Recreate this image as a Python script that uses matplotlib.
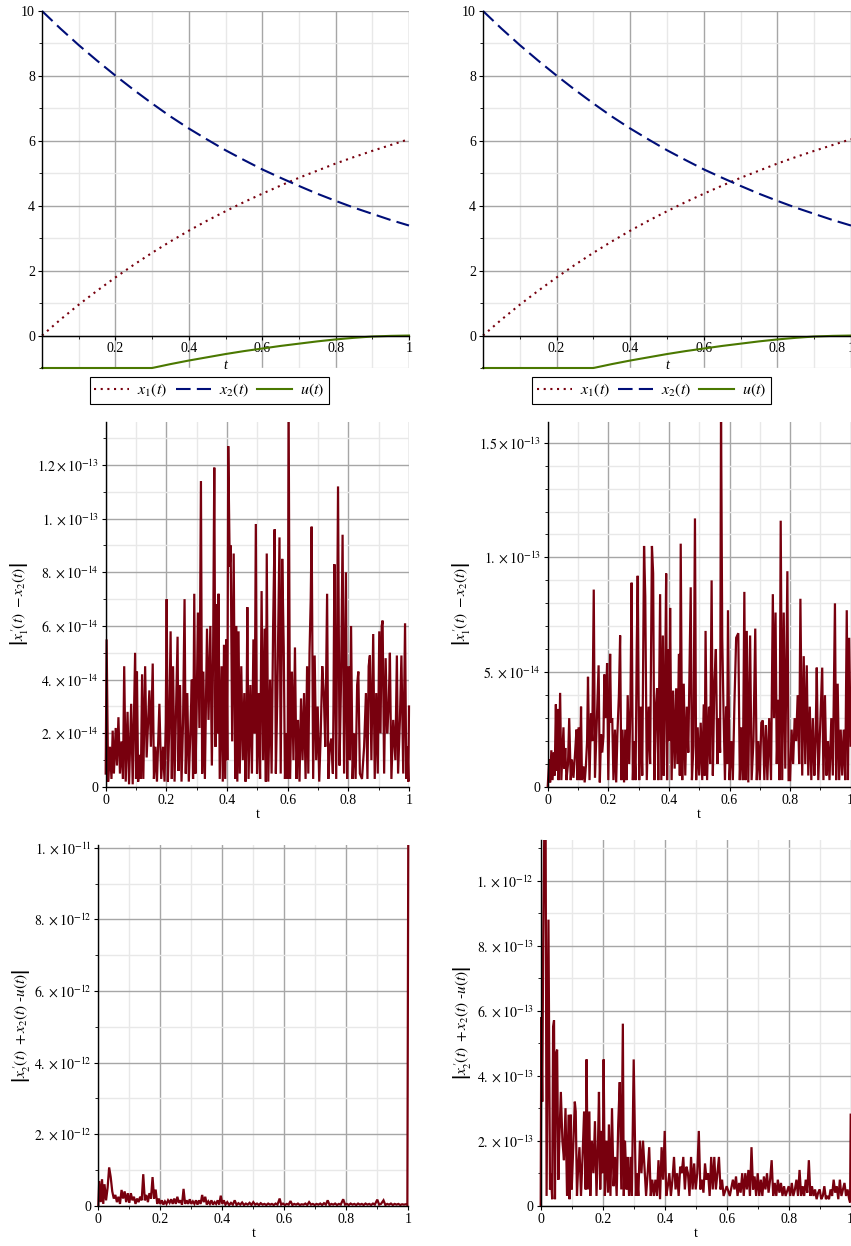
import numpy as np
import matplotlib
matplotlib.use("Agg")
import matplotlib.pyplot as plt
from matplotlib.ticker import MultipleLocator
from matplotlib.transforms import Bbox, TransformedBbox

plt.rcParams['font.family'] = ['Liberation Serif', 'DejaVu Serif']
plt.rcParams['mathtext.fontset'] = 'stix'

# ---------------- data ----------------
t_state = [0.00, 0.05, 0.10, 0.15, 0.20, 0.25, 0.30, 0.35, 0.40, 0.45, 0.50,
           0.55, 0.60, 0.65, 0.70, 0.75, 0.80, 0.85, 0.90, 0.95, 1.00]
x1_vals = [0.00, 0.49, 0.95, 1.38, 1.79, 2.18, 2.55, 2.90, 3.23, 3.54, 3.83,
           4.11, 4.37, 4.62, 4.86, 5.08, 5.30, 5.50, 5.69, 5.87, 6.05]
x2_vals = [10.00, 9.46, 8.95, 8.47, 8.01, 7.57, 7.15, 6.75, 6.38, 6.04, 5.71,
           5.41, 5.12, 4.86, 4.61, 4.37, 4.15, 3.94, 3.75, 3.56, 3.39]
u_vals = [-1.00, -1.00, -1.00, -1.00, -1.00, -1.00, -1.00, -0.88, -0.77, -0.67, -0.57,
          -0.48, -0.40, -0.32, -0.25, -0.18, -0.12, -0.07, -0.03, -0.01, 0.00]

state_xticks = [0.2, 0.4, 0.6, 0.8, 1.0]
state_xticklabels = ['0.2', '0.4', '0.6', '0.8', '1']
state_yticks = [0, 2, 4, 6, 8, 10]
err_xticks = [0, 0.2, 0.4, 0.6, 0.8, 1.0]
err_xticklabels = ['0', '0.2', '0.4', '0.6', '0.8', '1']

# |x1'(t) - x2(t)|, left, units 1e-14
err1_left = [
 (0.000,0.5),(0.003,5.5),(0.008,0.2),(0.014,1.5),(0.019,0.3),(0.023,2.1),(0.027,0.5),(0.033,2.2),
 (0.037,0.8),(0.042,2.6),(0.047,0.5),(0.052,1.7),(0.057,0.3),(0.061,4.5),(0.066,0.2),(0.072,2.8),
 (0.077,0.1),(0.084,3.1),(0.089,0.1),(0.097,5.0),(0.100,0.3),(0.103,4.3),(0.107,0.2),(0.112,1.2),
 (0.116,0.3),(0.120,4.2),(0.124,0.3),(0.130,4.5),(0.135,1.1),(0.144,3.6),(0.149,1.5),(0.155,4.6),
 (0.159,0.3),(0.164,1.5),(0.169,0.2),(0.174,2.0),(0.177,3.1),(0.183,0.3),(0.189,1.5),(0.194,0.2),
 (0.198,2.4),(0.201,7.0),(0.205,0.2),(0.209,2.0),(0.214,5.8),(0.218,0.3),(0.222,4.5),(0.227,0.2),
 (0.232,3.0),(0.237,5.6),(0.240,0.6),(0.245,3.8),(0.250,0.2),(0.255,2.4),(0.260,7.0),(0.264,0.5),
 (0.269,3.5),(0.274,0.2),(0.279,2.0),(0.284,4.0),(0.288,0.3),(0.292,7.2),(0.296,0.5),(0.300,3.0),
 (0.304,6.5),(0.309,2.2),(0.314,11.4),(0.318,0.5),(0.322,4.3),(0.327,0.3),(0.334,5.9),(0.339,2.5),
 (0.345,6.0),(0.350,0.8),(0.354,4.8),(0.358,11.9),(0.362,1.5),(0.366,6.8),(0.369,2.0),(0.372,7.2),
 (0.376,0.3),(0.382,4.5),(0.386,0.2),(0.390,5.3),(0.394,0.3),(0.398,5.5),(0.401,1.0),(0.404,12.7),
 (0.409,8.2),(0.412,9.0),(0.417,1.7),(0.422,8.7),(0.427,0.3),(0.430,6.0),(0.434,0.2),(0.438,5.8),
 (0.442,0.5),(0.447,4.5),(0.452,1.0),(0.457,3.5),(0.461,0.2),(0.464,2.0),(0.467,6.7),(0.471,0.3),
 (0.477,3.8),(0.482,0.5),(0.487,5.5),(0.491,2.0),(0.495,9.8),(0.499,0.5),(0.504,3.5),(0.509,0.3),
 (0.514,7.3),(0.519,1.0),(0.524,5.9),(0.528,0.2),(0.531,8.7),(0.536,0.2),(0.542,4.0),(0.547,0.5),
 (0.552,6.0),(0.557,9.6),(0.561,0.5),(0.566,3.5),(0.573,9.3),(0.577,0.5),(0.582,8.5),(0.587,5.2),
 (0.591,0.3),(0.596,2.0),(0.600,0.3),(0.603,14.5),(0.608,0.3),(0.614,4.3),(0.619,1.0),(0.624,5.2),
 (0.629,0.3),(0.634,2.5),(0.639,0.2),(0.644,3.3),(0.649,1.0),(0.654,3.5),(0.659,0.3),(0.664,4.5),
 (0.668,0.5),(0.672,5.0),(0.676,7.0),(0.679,9.7),(0.684,0.3),(0.689,4.9),(0.694,1.0),(0.699,3.0),
 (0.704,0.2),(0.709,2.0),(0.714,4.5),(0.719,3.5),(0.724,1.5),(0.730,7.2),(0.734,0.3),(0.739,1.5),
 (0.744,1.8),(0.749,0.5),(0.751,3.0),(0.754,8.3),(0.760,0.3),(0.766,11.2),(0.771,0.8),(0.776,4.0),
 (0.781,9.4),(0.786,0.5),(0.792,8.0),(0.796,0.3),(0.801,4.5),(0.805,1.0),(0.809,6.0),(0.814,0.3),
 (0.819,2.0),(0.824,0.3),(0.829,3.8),(0.833,4.3),(0.838,0.5),(0.845,0.3),(0.852,1.5),(0.858,3.5),
 (0.863,0.3),(0.867,4.5),(0.871,4.9),(0.876,1.0),(0.882,5.7),(0.887,0.3),(0.892,3.5),(0.897,0.5),
 (0.902,5.8),(0.906,2.0),(0.910,6.0),(0.913,6.2),(0.918,0.5),(0.923,4.8),(0.928,2.0),(0.933,3.0),
 (0.937,5.0),(0.942,0.3),(0.948,2.5),(0.955,1.0),(0.960,4.9),(0.964,0.5),(0.970,2.5),(0.975,4.9),
 (0.981,0.5),(0.987,6.1),(0.991,0.3),(0.995,1.5),(0.998,0.2),(1.000,3.0)]

# |x1'(t) - x2(t)|, right, units 1e-14
err1_right = [
 (0.000,0.0),(0.005,1.2),(0.008,0.2),(0.012,1.6),(0.016,0.3),(0.020,1.5),(0.023,0.5),(0.027,3.6),
 (0.030,0.7),(0.033,3.4),(0.036,0.3),(0.041,4.1),(0.045,0.3),(0.052,2.6),(0.055,0.8),(0.058,1.7),
 (0.062,0.3),(0.067,1.0),(0.071,3.0),(0.076,0.3),(0.080,1.2),(0.085,0.4),(0.090,1.4),(0.095,2.5),
 (0.098,0.3),(0.102,2.6),(0.106,0.3),(0.110,3.5),(0.113,0.3),(0.118,0.9),(0.122,0.2),(0.126,0.9),
 (0.130,2.0),(0.133,4.8),(0.138,0.3),(0.143,3.2),(0.147,2.0),(0.152,8.6),(0.156,0.4),(0.161,2.5),
 (0.168,5.3),(0.172,0.2),(0.176,2.3),(0.180,1.5),(0.184,2.2),(0.187,4.9),(0.191,3.0),(0.196,5.4),
 (0.200,0.3),(0.206,5.8),(0.209,2.8),(0.213,3.0),(0.217,0.3),(0.222,2.5),(0.226,0.2),(0.230,2.3),
 (0.235,4.0),(0.239,6.6),(0.243,0.3),(0.247,2.5),(0.252,0.2),(0.256,2.5),(0.260,0.3),(0.264,4.0),
 (0.269,1.0),(0.273,3.5),(0.277,8.9),(0.281,0.3),(0.285,2.0),(0.290,0.3),(0.294,6.2),(0.297,9.2),
 (0.302,0.3),(0.307,3.5),(0.312,0.5),(0.318,10.5),(0.322,8.3),(0.327,0.3),(0.333,3.5),(0.338,1.0),
 (0.344,10.5),(0.348,9.3),(0.352,0.3),(0.357,3.5),(0.361,4.3),(0.365,0.3),(0.371,8.4),(0.375,0.3),
 (0.380,6.6),(0.383,0.5),(0.387,4.0),(0.391,9.3),(0.394,0.3),(0.398,6.0),(0.401,2.0),(0.404,7.8),
 (0.409,0.3),(0.414,4.2),(0.419,0.8),(0.424,4.3),(0.428,1.0),(0.433,5.8),(0.436,0.5),(0.439,10.6),
 (0.444,0.3),(0.449,4.5),(0.454,0.5),(0.459,3.5),(0.464,1.5),(0.468,5.0),(0.472,8.7),(0.476,0.3),
 (0.481,1.8),(0.486,11.7),(0.490,0.3),(0.495,2.6),(0.500,0.5),(0.505,2.8),(0.510,0.3),(0.515,3.6),
 (0.518,0.5),(0.521,6.8),(0.526,0.3),(0.532,3.5),(0.536,1.0),(0.541,9.0),(0.545,0.5),(0.550,4.5),
 (0.555,6.0),(0.560,1.0),(0.565,3.0),(0.569,1.5),(0.572,16.5),(0.576,6.5),(0.580,3.5),(0.585,0.3),
 (0.589,3.5),(0.592,1.0),(0.595,7.7),(0.600,0.3),(0.606,2.0),(0.611,0.3),(0.616,3.5),(0.622,6.5),
 (0.629,6.7),(0.634,0.3),(0.639,2.6),(0.644,0.3),(0.649,8.5),(0.653,0.3),(0.657,6.8),(0.662,0.2),
 (0.668,6.6),(0.673,0.3),(0.679,2.0),(0.685,6.9),(0.690,0.3),(0.695,2.0),(0.700,0.3),(0.705,2.8),
 (0.710,2.9),(0.715,0.3),(0.720,2.7),(0.725,0.3),(0.731,3.0),(0.737,0.3),(0.743,8.4),(0.747,3.0),
 (0.752,7.6),(0.756,1.0),(0.761,3.8),(0.765,0.3),(0.769,11.6),(0.774,0.3),(0.779,7.6),(0.784,0.8),
 (0.791,9.4),(0.795,0.3),(0.800,0.3),(0.805,2.5),(0.810,1.0),(0.815,3.0),(0.820,2.0),(0.825,4.0),
 (0.830,1.0),(0.834,8.2),(0.840,0.5),(0.845,5.7),(0.850,1.0),(0.855,5.3),(0.860,0.5),(0.865,3.5),
 (0.870,0.3),(0.875,3.0),(0.880,0.5),(0.884,2.0),(0.888,5.2),(0.893,0.3),(0.899,2.5),(0.906,5.2),
 (0.910,0.3),(0.915,4.0),(0.920,0.5),(0.925,2.0),(0.930,0.3),(0.936,3.0),(0.941,0.5),(0.948,8.0),
 (0.952,0.3),(0.957,4.5),(0.962,0.3),(0.967,2.5),(0.972,0.5),(0.977,2.5),(0.982,0.3),(0.987,7.7),
 (0.991,0.3),(0.995,6.5),(1.000,1.8)]

# |x2'(t) + x2(t) - u(t)|, left, units 1e-13
err2_left = [
 (0.000,0.0),(0.003,6.9),(0.008,1.0),(0.012,7.4),(0.016,0.5),(0.020,6.0),(0.025,1.5),(0.030,5.0),
 (0.035,10.7),(0.040,8.0),(0.045,4.0),(0.050,2.0),(0.055,3.0),(0.060,1.0),(0.065,2.5),(0.070,0.5),
 (0.075,4.4),(0.080,2.0),(0.085,4.0),(0.090,1.0),(0.095,3.5),(0.100,0.8),(0.105,3.5),(0.110,1.5),
 (0.115,2.5),(0.120,0.5),(0.125,2.0),(0.130,1.0),(0.135,2.5),(0.140,1.5),(0.145,8.8),(0.150,1.5),
 (0.155,3.0),(0.160,1.0),(0.165,3.5),(0.170,2.0),(0.175,8.0),(0.180,2.0),(0.185,4.5),(0.190,0.5),
 (0.195,2.0),(0.200,0.5),(0.205,1.5),(0.210,0.3),(0.215,1.2),(0.220,0.5),(0.225,1.5),(0.230,0.8),
 (0.235,1.8),(0.240,0.5),(0.245,2.0),(0.250,0.5),(0.255,2.5),(0.260,0.8),(0.265,1.5),(0.270,0.3),
 (0.275,4.7),(0.280,0.5),(0.285,1.5),(0.290,0.5),(0.295,1.8),(0.300,0.5),(0.305,1.2),(0.310,0.5),
 (0.315,1.5),(0.320,0.3),(0.325,1.5),(0.330,0.5),(0.335,3.0),(0.340,1.0),(0.345,2.5),(0.350,0.3),
 (0.355,1.2),(0.360,0.5),(0.365,1.5),(0.370,0.3),(0.375,1.0),(0.380,0.5),(0.385,1.5),(0.390,0.3),
 (0.395,2.8),(0.400,0.5),(0.405,1.5),(0.410,0.3),(0.416,1.0),(0.422,0.2),(0.428,0.8),(0.434,0.3),
 (0.440,1.5),(0.446,0.2),(0.452,0.7),(0.458,0.3),(0.464,0.9),(0.470,0.2),(0.476,0.6),(0.482,0.3),
 (0.488,0.8),(0.494,0.2),(0.500,1.0),(0.506,0.3),(0.512,0.6),(0.518,0.2),(0.524,0.7),(0.530,0.3),
 (0.536,0.5),(0.542,0.2),(0.548,0.6),(0.554,0.3),(0.560,0.5),(0.566,0.2),(0.572,0.6),(0.578,0.3),
 (0.585,2.0),(0.590,0.3),(0.596,0.6),(0.602,0.2),(0.608,0.5),(0.614,0.3),(0.620,1.3),(0.626,0.2),
 (0.632,0.5),(0.638,0.3),(0.644,0.6),(0.650,0.2),(0.656,0.4),(0.662,0.3),(0.668,0.6),(0.674,0.2),
 (0.680,1.0),(0.686,0.3),(0.692,0.5),(0.698,0.2),(0.704,0.5),(0.710,0.3),(0.716,0.6),(0.722,0.2),
 (0.728,0.7),(0.734,0.3),(0.740,1.5),(0.746,0.2),(0.752,0.5),(0.758,0.3),(0.764,0.6),(0.770,0.2),
 (0.776,0.5),(0.782,0.3),(0.790,1.8),(0.796,0.3),(0.802,0.5),(0.808,0.2),(0.814,0.6),(0.820,0.3),
 (0.826,0.5),(0.832,0.2),(0.838,0.6),(0.844,0.3),(0.850,0.5),(0.856,0.2),(0.862,0.6),(0.868,0.3),
 (0.874,0.5),(0.880,0.2),(0.886,0.6),(0.892,0.3),(0.900,1.7),(0.906,0.3),(0.912,0.5),(0.920,1.5),
 (0.926,0.2),(0.932,0.5),(0.938,0.3),(0.944,0.6),(0.950,0.2),(0.956,0.5),(0.962,0.3),(0.968,0.5),
 (0.974,0.2),(0.980,0.4),(0.986,0.3),(0.992,0.4),(0.997,0.2),(1.000,105.0)]

# |x2'(t) + x2(t) - u(t)|, right, units 1e-13
err2_right = [
 (0.000,0.0),(0.002,5.8),(0.005,3.2),(0.008,8.0),(0.012,12.0),(0.016,11.3),(0.019,0.3),(0.025,8.8),
 (0.030,0.5),(0.033,1.0),(0.037,0.2),(0.040,5.5),(0.043,5.7),(0.046,0.2),(0.050,4.7),(0.053,4.8),
 (0.057,0.8),(0.060,2.0),(0.065,3.5),(0.070,2.0),(0.075,1.4),(0.080,3.0),(0.085,0.3),(0.090,2.8),
 (0.093,0.2),(0.097,2.8),(0.100,0.5),(0.105,1.8),(0.110,3.2),(0.113,2.9),(0.117,0.3),(0.120,1.0),
 (0.125,1.8),(0.130,0.3),(0.135,1.5),(0.140,2.9),(0.145,0.5),(0.148,4.5),(0.152,0.5),(0.157,2.9),
 (0.160,0.3),(0.165,2.0),(0.170,1.0),(0.175,2.6),(0.180,0.3),(0.185,2.0),(0.188,3.5),(0.192,0.5),
 (0.196,2.3),(0.200,1.0),(0.203,4.5),(0.207,0.3),(0.212,2.0),(0.217,0.4),(0.220,2.5),(0.225,0.3),
 (0.230,3.0),(0.235,0.6),(0.240,1.5),(0.245,0.3),(0.250,2.5),(0.255,3.8),(0.260,0.5),(0.265,5.6),
 (0.268,0.3),(0.272,2.0),(0.277,0.5),(0.280,1.5),(0.285,0.3),(0.290,1.5),(0.294,0.3),(0.300,4.5),
 (0.307,0.3),(0.310,1.0),(0.315,0.3),(0.320,2.0),(0.325,1.0),(0.330,2.0),(0.340,0.3),(0.345,1.0),
 (0.350,1.8),(0.355,0.3),(0.360,0.8),(0.365,0.3),(0.370,0.8),(0.375,0.3),(0.380,1.4),(0.385,0.2),
 (0.390,1.8),(0.395,0.8),(0.400,2.3),(0.405,0.3),(0.410,0.6),(0.415,1.0),(0.420,0.3),(0.425,0.8),
 (0.430,1.5),(0.435,0.5),(0.440,1.0),(0.445,0.3),(0.450,1.2),(0.455,1.0),(0.460,1.5),(0.465,0.5),
 (0.470,1.2),(0.475,1.0),(0.480,0.3),(0.485,1.5),(0.490,0.5),(0.495,1.3),(0.500,0.5),(0.505,1.0),
 (0.510,2.3),(0.515,0.5),(0.520,0.8),(0.525,0.4),(0.530,1.3),(0.535,0.8),(0.540,1.0),(0.545,0.3),
 (0.550,1.5),(0.555,0.5),(0.560,1.5),(0.565,0.5),(0.570,1.0),(0.575,1.5),(0.580,0.5),(0.585,0.8),
 (0.590,0.3),(0.600,0.6),(0.610,0.3),(0.620,0.8),(0.625,0.5),(0.630,0.9),(0.635,0.3),(0.640,0.7),
 (0.645,0.4),(0.650,1.0),(0.655,0.3),(0.660,1.0),(0.665,0.5),(0.670,1.1),(0.675,0.3),(0.680,1.8),
 (0.685,0.5),(0.690,0.9),(0.695,0.3),(0.700,1.0),(0.705,0.3),(0.710,0.8),(0.715,0.3),(0.720,0.9),
 (0.725,0.5),(0.730,1.0),(0.735,0.4),(0.740,0.8),(0.745,1.4),(0.750,0.3),(0.755,0.7),(0.760,0.3),
 (0.765,0.8),(0.770,0.4),(0.775,0.7),(0.780,0.3),(0.785,0.6),(0.790,0.3),(0.800,0.6),(0.805,0.3),
 (0.810,0.7),(0.815,0.3),(0.820,0.5),(0.825,0.8),(0.830,0.3),(0.835,1.1),(0.840,0.3),(0.845,0.6),
 (0.850,0.3),(0.855,0.8),(0.860,0.4),(0.865,1.4),(0.870,0.3),(0.875,0.6),(0.880,0.3),(0.885,0.5),
 (0.890,0.2),(0.895,0.4),(0.900,0.5),(0.905,0.2),(0.910,0.3),(0.915,0.6),(0.920,0.2),(0.925,0.3),
 (0.930,0.2),(0.935,0.5),(0.940,0.3),(0.945,0.8),(0.950,0.4),(0.955,0.6),(0.960,0.2),(0.965,0.8),
 (0.970,0.3),(0.975,0.5),(0.980,0.7),(0.985,0.3),(0.990,0.5),(0.995,0.2),(0.998,0.1),(1.000,2.8)]

e1l_ticks = [0, 2e-14, 4e-14, 6e-14, 8e-14, 1e-13, 1.2e-13]
e1l_labels = ['0', r'$2.\times10^{-14}$', r'$4.\times10^{-14}$', r'$6.\times10^{-14}$',
              r'$8.\times10^{-14}$', r'$1.\times10^{-13}$', r'$1.2\times10^{-13}$']
e1r_ticks = [0, 5e-14, 1e-13, 1.5e-13]
e1r_labels = ['0', r'$5.\times10^{-14}$', r'$1.\times10^{-13}$', r'$1.5\times10^{-13}$']
e2l_ticks = [0, 2e-12, 4e-12, 6e-12, 8e-12, 1e-11]
e2l_labels = ['0', r'$2.\times10^{-12}$', r'$4.\times10^{-12}$', r'$6.\times10^{-12}$',
              r'$8.\times10^{-12}$', r'$1.\times10^{-11}$']
e2r_ticks = [0, 2e-13, 4e-13, 6e-13, 8e-13, 1e-12]
e2r_labels = ['0', r'$2.\times10^{-13}$', r'$4.\times10^{-13}$', r'$6.\times10^{-13}$',
              r'$8.\times10^{-13}$', r'$1.\times10^{-12}$']

# ---------------- style ----------------
C_RED = '#78000E'
C_BLUE = '#000E78'
C_GREEN = '#4A7800'
GRID_MAJ = '#a6a6a6'
GRID_MIN = '#e8e8e8'
FS = 10

W, H = 851, 1246
fig = plt.figure(figsize=(W / 100, H / 100), dpi=100)


def px_axes(left, top, right, bottom):
    return fig.add_axes([left / W, 1 - bottom / H, (right - left) / W, (bottom - top) / H])


def style_common(ax):
    ax.set_axisbelow(True)
    ax.grid(which='major', color=GRID_MAJ, lw=1.0)
    ax.grid(which='minor', color=GRID_MIN, lw=1.0)
    for s in ['top', 'right']:
        ax.spines[s].set_visible(False)
    ax.spines['left'].set_linewidth(1.0)
    ax.spines['bottom'].set_linewidth(1.0)
    ax.tick_params(which='major', length=3, width=0.8, labelsize=FS, pad=2)
    ax.tick_params(which='minor', length=2, width=0.6)


def state_panel(ax, leg_x):
    style_common(ax)
    l1, = ax.plot(t_state, x1_vals, color=C_RED, lw=1.5, ls=(0, (1, 2.2)), clip_on=False)
    l2, = ax.plot(t_state, x2_vals, color=C_BLUE, lw=1.5, ls=(0, (7, 3)), clip_on=False)
    l3, = ax.plot(t_state, u_vals, color=C_GREEN, lw=1.5, clip_on=False)
    ax.set_xlim(0, 1)
    ax.set_ylim(-1, 10)
    ax.spines['bottom'].set_position(('data', 0))
    ax.set_xticks(state_xticks)
    ax.set_xticklabels(state_xticklabels)
    ax.set_yticks(state_yticks)
    ax.xaxis.set_minor_locator(MultipleLocator(0.1))
    ax.yaxis.set_minor_locator(MultipleLocator(1))
    ax.text(0.5, -0.93, 't', ha='center', va='center', fontsize=FS, style='italic')
    ax.legend([l1, l2, l3], [r'$x_1(t)$', r'$x_2(t)$', r'$u(t)$'],
              loc='center', bbox_to_anchor=(leg_x, -0.063), ncol=3, fontsize=11.5,
              frameon=True, fancybox=False, edgecolor='black', framealpha=1,
              handlelength=2.2, handletextpad=0.5, columnspacing=0.5,
              borderpad=0.3, borderaxespad=0)
    ax.get_legend().get_frame().set_linewidth(0.8)


def err_panel(ax, data, scale, ymax, ticks, labels, minor, ylabel, lab_x):
    style_common(ax)
    arr = np.array(data)
    ln, = ax.plot(arr[:, 0], arr[:, 1] * scale, color=C_RED, lw=1.6, solid_joinstyle='miter')
    ln.set_clip_box(TransformedBbox(Bbox([[-0.01, 0.0], [1.01, 1.0]]), ax.transAxes))
    ax.set_xlim(0, 1)
    ax.set_ylim(0, ymax)
    ax.set_xticks(err_xticks)
    ax.set_xticklabels(err_xticklabels)
    ax.set_yticks(ticks)
    ax.set_yticklabels(labels)
    ax.xaxis.set_minor_locator(MultipleLocator(0.1))
    ax.yaxis.set_minor_locator(MultipleLocator(minor))
    ax.set_xlabel('t', fontsize=FS, labelpad=1)
    ax.set_ylabel(ylabel, fontsize=11)
    ax.yaxis.set_label_coords(lab_x, 0.5)


ylab1 = r"$\left|x_1^{\,\prime}(t)\ -x_2(t)\right|$"
ylab2 = r"$\left|x_2^{\,\prime}(t)\ +x_2(t)\ \text{-}u(t)\right|$"

ax1 = px_axes(42, 11, 409, 368)
state_panel(ax1, 0.456)
ax2 = px_axes(483, 11, 851, 368)
state_panel(ax2, 0.458)

ax3 = px_axes(105.7, 422, 409, 787)
err_panel(ax3, err1_left, 1e-14, 1.36e-13, e1l_ticks, e1l_labels, 1e-14, ylab1, -0.25)
ax4 = px_axes(547.7, 422, 850.7, 787)
err_panel(ax4, err1_right, 1e-14, 1.59e-13, e1r_ticks, e1r_labels, 1e-14, ylab1, -0.25)

ax5 = px_axes(98.3, 845, 408.3, 1205.7)
err_panel(ax5, err2_left, 1e-13, 1.0077e-11, e2l_ticks, e2l_labels, 1e-12, ylab2, -0.215)
ax6 = px_axes(540.7, 840, 850.7, 1205.7)
err_panel(ax6, err2_right, 1e-13, 1.125e-12, e2r_ticks, e2r_labels, 1e-13, ylab2, -0.22)

fig.savefig('out.png', dpi=100)
